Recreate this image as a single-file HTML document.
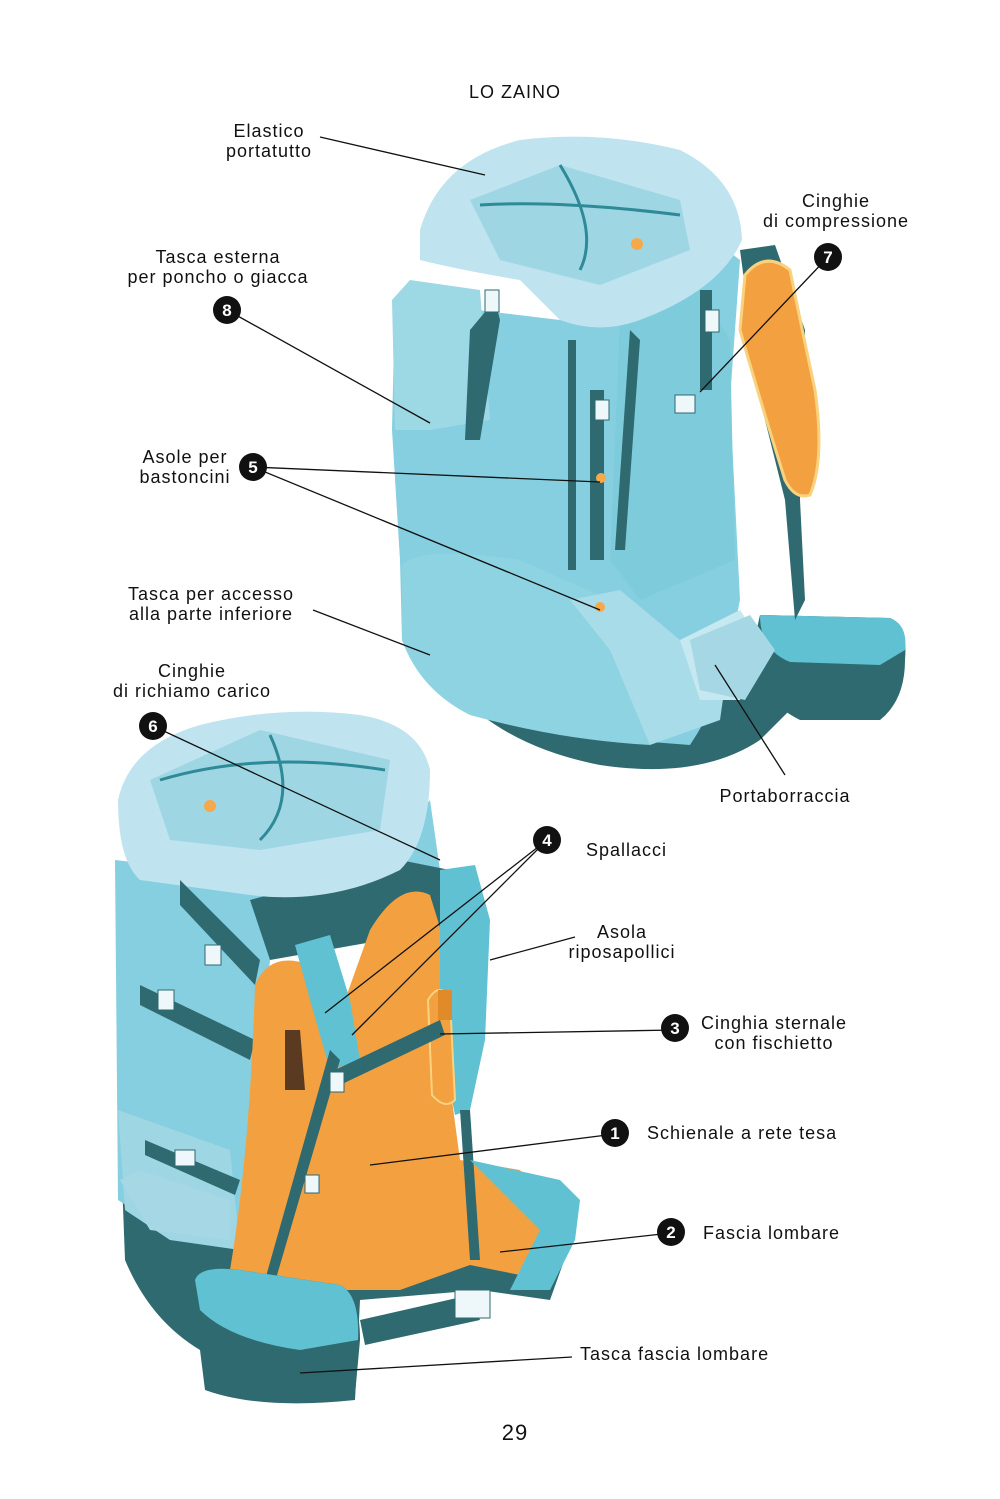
<!DOCTYPE html>
<html><head><meta charset="utf-8"><style>
html,body{margin:0;padding:0;background:#fff;}
svg{display:block;}
text{font-family:"Liberation Sans",sans-serif;font-size:18px;fill:#111;letter-spacing:1px;}
.n{fill:#fff;font-weight:bold;font-size:17px;text-anchor:middle;letter-spacing:0;}
</style></head><body>
<svg width="1000" height="1499" viewBox="0 0 1000 1499" xmlns="http://www.w3.org/2000/svg">
<rect width="1000" height="1499" fill="#fff"/>

<!-- ===== TOP BACKPACK ===== -->
<path d="M420,640 Q470,740 600,765 Q700,780 760,740 L800,700 Q780,660 700,640 Z" fill="#2f6a70"/>
<path d="M760,615 L890,618 Q908,625 905,660 Q905,700 880,720 L800,720 Q760,700 750,660 Z" fill="#2f6a70"/>
<path d="M760,615 L890,618 Q908,625 905,650 L880,665 L790,662 Q760,650 760,615 Z" fill="#5fc1d2"/>
<path d="M740,250 L775,245 L805,330 L800,500 L805,600 L795,620 L785,500 L760,400 Z" fill="#2f6a70"/>
<path d="M395,300 L392,430 L400,560 L402,640 Q430,700 560,735 L690,745 Q720,700 730,650 L740,600 L730,400 L740,260 L700,230 L560,320 Z" fill="#86cfe0"/>
<path d="M402,565 Q420,545 520,560 L610,600 L640,690 L650,745 Q560,740 470,715 Q420,690 402,640 Z" fill="#8dd3e2"/>
<path d="M570,600 L620,590 L680,640 L730,650 L720,720 L650,745 L610,650 Z" fill="#a8dce8"/>
<path d="M680,640 L740,610 L760,640 L740,700 L700,700 Z" fill="#c6e8f0"/>
<path d="M620,320 L700,290 L730,340 L735,560 L640,600 L610,560 Z" fill="#7ecbdc"/>
<path d="M392,300 L410,280 L480,290 L490,420 L430,430 L395,430 Z" fill="#9dd8e5"/>
<path d="M420,230 Q440,160 520,140 Q600,130 680,150 Q740,180 742,240 Q720,290 640,320 Q600,335 560,320 L520,280 Q460,270 420,260 Z" fill="#bfe3ef"/>
<path d="M470,200 L560,165 L680,200 L690,250 L600,285 L500,260 Z" fill="#9fd6e4"/>
<path d="M480,205 Q560,200 680,215 M560,165 Q600,230 580,270" stroke="#2f8a97" stroke-width="3" fill="none"/>
<circle cx="637" cy="244" r="6" fill="#f5a94a"/>
<rect x="590" y="390" width="14" height="170" fill="#2f6a70"/>
<rect x="568" y="340" width="8" height="230" fill="#2f6a70"/>
<path d="M630,330 L640,340 L625,550 L615,550 Z" fill="#2f6a70"/>
<path d="M470,330 L495,300 L500,320 L480,440 L465,440 Z" fill="#2f6a70"/>
<rect x="700" y="290" width="12" height="100" fill="#2f6a70"/>
<path d="M745,275 Q765,250 790,270 Q800,320 815,390 Q825,460 810,495 Q795,500 785,480 Q760,400 740,330 Z" fill="#f3a040" stroke="#f9d27f" stroke-width="3"/>
<path d="M690,640 L750,615 L775,650 L745,700 L700,690 Z" fill="#a6d7e5"/>
<rect x="675" y="395" width="20" height="18" fill="#eef7fa" stroke="#2f6a70"/>
<rect x="595" y="400" width="14" height="20" fill="#eef7fa" stroke="#2f6a70"/>
<rect x="485" y="290" width="14" height="22" fill="#eef7fa" stroke="#2f6a70"/>
<rect x="705" y="310" width="14" height="22" fill="#eef7fa" stroke="#2f6a70"/>
<circle cx="601" cy="478" r="5" fill="#f5a94a"/>
<circle cx="600" cy="607" r="5" fill="#f5a94a"/>

<!-- ===== BOTTOM BACKPACK ===== -->
<path d="M122,1180 L125,1260 Q150,1320 200,1350 L205,1390 Q260,1410 355,1400 L360,1300 L480,1290 L550,1300 L575,1230 L480,1170 L300,1250 Z" fill="#2f6a70"/>
<path d="M115,860 L118,1200 L180,1240 L240,1250 L270,960 L300,910 L440,870 L430,800 L380,860 L200,870 Z" fill="#86cfe0"/>
<path d="M118,1110 L230,1150 L240,1250 L170,1240 L125,1210 Z" fill="#9fd6e4"/>
<path d="M120,1180 L150,1230 L230,1240 L230,1200 L140,1170 Z" fill="#a6d7e5"/>
<path d="M250,900 L400,860 L450,870 L440,930 L270,960 Z" fill="#2f6a70"/>
<path d="M118,800 Q130,745 200,725 Q280,705 360,715 Q420,725 430,770 Q430,840 400,870 Q330,905 250,895 L140,880 Q118,860 118,800 Z" fill="#bfe3ef"/>
<path d="M150,780 L260,730 L390,760 L380,830 L260,850 L170,840 Z" fill="#9fd6e4"/>
<path d="M160,780 Q260,750 385,770 M270,735 Q300,800 260,840" stroke="#2f8a97" stroke-width="3" fill="none"/>
<circle cx="210" cy="806" r="6" fill="#f5a94a"/>
<path d="M180,880 L260,960 L255,985 L180,905 Z" fill="#2f6a70"/>
<path d="M140,985 L255,1040 L250,1060 L140,1005 Z" fill="#2f6a70"/>
<path d="M145,1140 L240,1180 L235,1195 L145,1155 Z" fill="#2f6a70"/>
<path d="M255,985 Q270,950 310,965 L345,1000 L370,930 Q400,880 430,895 L450,960 L440,1010 L460,1160 L520,1170 L550,1220 L545,1280 L470,1265 L400,1290 L330,1290 Q270,1290 230,1270 Q250,1150 255,985 Z" fill="#f3a040"/>
<path d="M285,1030 L300,1030 L305,1090 L285,1090 Z" fill="#5a3a20"/>
<path d="M295,945 L330,935 L350,1000 L360,1060 L330,1070 L310,1000 Z" fill="#5fc1d2"/>
<path d="M440,870 L475,865 L490,920 L485,1040 L470,1110 L455,1115 L440,1040 Z" fill="#5fc1d2"/>
<path d="M428,1000 Q440,980 450,1000 L455,1100 Q445,1110 432,1095 Z" fill="#f3a040" stroke="#f9d27f" stroke-width="2"/>
<path d="M335,1070 L440,1020 L445,1035 L340,1085 Z" fill="#2f6a70"/>
<rect x="438" y="990" width="14" height="30" fill="#e08a2a"/>
<path d="M330,1050 L265,1280 L275,1282 L340,1060 Z" fill="#2f6a70"/>
<path d="M460,1110 L470,1260 L480,1260 L470,1110 Z" fill="#2f6a70"/>
<path d="M470,1160 L560,1180 L580,1200 L575,1240 L550,1290 L510,1290 L540,1230 Z" fill="#5fc1d2"/>
<path d="M360,1320 L470,1295 L480,1320 L365,1345 Z" fill="#2f6a70"/>
<rect x="455" y="1290" width="35" height="28" fill="#eef7fa" stroke="#2f6a70"/>
<path d="M195,1280 Q200,1265 240,1270 L340,1285 Q360,1295 360,1340 L355,1395 L300,1400 Q230,1390 205,1350 Z" fill="#2f6a70"/>
<path d="M195,1280 Q200,1265 240,1270 L340,1285 Q360,1295 358,1340 L300,1350 Q230,1340 200,1310 Z" fill="#5fc1d2"/>
<rect x="205" y="945" width="16" height="20" fill="#eef7fa" stroke="#2f6a70"/>
<rect x="158" y="990" width="16" height="20" fill="#eef7fa" stroke="#2f6a70"/>
<rect x="175" y="1150" width="20" height="16" fill="#eef7fa" stroke="#2f6a70"/>
<rect x="330" y="1072" width="14" height="20" fill="#eef7fa" stroke="#2f6a70"/>
<rect x="305" y="1175" width="14" height="18" fill="#eef7fa" stroke="#2f6a70"/>

<!-- ===== LEADER LINES ===== -->
<g stroke="#111" stroke-width="1.3" fill="none">
<line x1="320" y1="137" x2="485" y2="175"/>
<line x1="227" y1="310" x2="430" y2="423"/>
<line x1="253" y1="467" x2="600" y2="482"/>
<line x1="253" y1="467" x2="600" y2="610"/>
<line x1="313" y1="610" x2="430" y2="655"/>
<line x1="828" y1="257" x2="700" y2="392"/>
<line x1="785" y1="775" x2="715" y2="665"/>
<line x1="153" y1="726" x2="440" y2="860"/>
<line x1="547" y1="840" x2="325" y2="1013"/>
<line x1="547" y1="840" x2="352" y2="1035"/>
<line x1="575" y1="937" x2="490" y2="960"/>
<line x1="675" y1="1030" x2="440" y2="1034"/>
<line x1="615" y1="1134" x2="370" y2="1165"/>
<line x1="671" y1="1233" x2="500" y2="1252"/>
<line x1="572" y1="1357" x2="300" y2="1373"/>
</g>

<g>
<circle cx="227" cy="310" r="14" fill="#111"/><text class="n" x="227" y="316">8</text>
<circle cx="253" cy="467" r="14" fill="#111"/><text class="n" x="253" y="473">5</text>
<circle cx="828" cy="257" r="14" fill="#111"/><text class="n" x="828" y="263">7</text>
<circle cx="153" cy="726" r="14" fill="#111"/><text class="n" x="153" y="732">6</text>
<circle cx="547" cy="840" r="14" fill="#111"/><text class="n" x="547" y="846">4</text>
<circle cx="675" cy="1028" r="14" fill="#111"/><text class="n" x="675" y="1034">3</text>
<circle cx="615" cy="1133" r="14" fill="#111"/><text class="n" x="615" y="1139">1</text>
<circle cx="671" cy="1232" r="14" fill="#111"/><text class="n" x="671" y="1238">2</text>
</g>

<text x="515" y="98" text-anchor="middle">LO ZAINO</text>
<text x="269" y="137" text-anchor="middle">Elastico</text>
<text x="269" y="157" text-anchor="middle">portatutto</text>
<text x="836" y="207" text-anchor="middle">Cinghie</text>
<text x="836" y="227" text-anchor="middle">di compressione</text>
<text x="218" y="263" text-anchor="middle">Tasca esterna</text>
<text x="218" y="283" text-anchor="middle">per poncho o giacca</text>
<text x="185" y="463" text-anchor="middle">Asole per</text>
<text x="185" y="483" text-anchor="middle">bastoncini</text>
<text x="211" y="600" text-anchor="middle">Tasca per accesso</text>
<text x="211" y="620" text-anchor="middle">alla parte inferiore</text>
<text x="192" y="677" text-anchor="middle">Cinghie</text>
<text x="192" y="697" text-anchor="middle">di richiamo carico</text>
<text x="785" y="802" text-anchor="middle">Portaborraccia</text>
<text x="586" y="856">Spallacci</text>
<text x="622" y="938" text-anchor="middle">Asola</text>
<text x="622" y="958" text-anchor="middle">riposapollici</text>
<text x="774" y="1029" text-anchor="middle">Cinghia sternale</text>
<text x="774" y="1049" text-anchor="middle">con fischietto</text>
<text x="647" y="1139">Schienale a rete tesa</text>
<text x="703" y="1239">Fascia lombare</text>
<text x="580" y="1360">Tasca fascia lombare</text>
<text x="515" y="1440" text-anchor="middle" style="font-size:22px">29</text>
</svg>
</body></html>
